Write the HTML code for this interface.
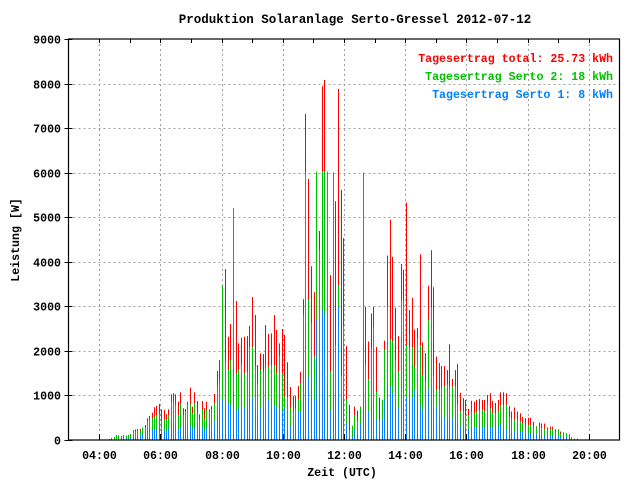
<!DOCTYPE html>
<html><head><meta charset="utf-8"><style>
html,body{margin:0;padding:0;background:#fff;}
svg{display:block;}
text{font-family:"Liberation Mono","DejaVu Sans Mono",monospace;font-weight:bold;font-size:11.6px;}
</style></head><body>
<svg id="chart" width="640" height="480" xmlns="http://www.w3.org/2000/svg">
<rect x="0" y="0" width="640" height="480" fill="#fff"/>
<text x="355" y="23" text-anchor="middle" fill="#000" style="font-size:12.5px">Produktion Solaranlage Serto-Gressel 2012-07-12</text>
<g id="grid"></g>
<g id="bars"></g>
<g id="axes"></g>
<text x="342" y="476" text-anchor="middle" fill="#000">Zeit (UTC)</text>
<text transform="translate(19,240) rotate(-90)" text-anchor="middle" fill="#000">Leistung [W]</text>
<text x="613" y="62" text-anchor="end" fill="#ff0000">Tagesertrag total: 25.73 kWh</text>
<text x="613" y="80" text-anchor="end" fill="#00c000">Tagesertrag Serto 2: 18 kWh</text>
<text x="613" y="98" text-anchor="end" fill="#0080ff">Tagesertrag Serto 1: 8 kWh</text>
</svg>
<script>
// Data (W). serto1 = blue, serto12 = blue+green stacked top, total = red top
const total = [22,45,67,112,97,90,112,97,112,135,224,239,247,247,277,337,486,539,613,733,763,808,688,673,576,688,1025,1047,1025,860,1070,711,696,860,1174,748,1070,875,576,875,711,860,688,
763,1032,1548,1795,3456,3837,2319,2603,5199,3119,2169,2296,2319,2334,2558,3209,2805,1683,1945,1930,2581,2379,2393,2805,2469,2169,2490,2360,1743,1189,987,987,1212,
1530,3160,7320,5860,3900,3320,6020,4690,7940,8080,6020,3700,6000,5360,7880,5610,4530,2110,790,320,750,660,750,6000,2990,2210,2840,2990,2090,950,900,2230,4140,4940,4110,2970,2330,3950,3820,
5330,2920,3190,2480,2510,4170,2190,1950,3460,4260,3430,1870,1730,1660,1660,1570,2150,1370,1570,1710,1060,940,900,700,880,860,900,920,900,900,1010,1050,880,
830,900,1070,1070,1050,760,640,730,640,600,520,490,500,500,410,310,390,370,370,280,300,300,240,240,190,170,150,130,60,30,30];
const serto12 = [22,45,67,97,97,90,112,97,112,135,202,187,202,209,277,284,411,449,486,524,561,598,449,464,449,561,875,845,785,561,823,561,636,800,800,598,823,598,464,673,464,673,636,
688,823,1219,1309,3456,1773,1571,1795,5199,1496,1571,1720,1496,1533,2094,2094,1661,1272,1571,1533,1645,1645,1683,1683,1496,1885,1496,972,957,711,688,711,913,
1280,2800,6020,3140,2620,1870,6020,4260,6020,6020,6020,1530,6000,2130,3460,1420,2560,920,220,320,560,410,750,6000,1680,1370,2060,2540,1080,450,900,2020,2990,2260,2210,1800,1530,3140,3140,
2110,2090,2090,1650,2280,2130,1460,1310,2690,2980,1420,1120,1120,1200,1200,1270,1200,1200,1200,790,640,640,560,560,640,600,640,670,670,640,820,710,600,
600,640,790,790,790,520,480,450,460,430,370,340,340,340,300,300,290,270,250,240,250,240,190,240,150,150,150,100,60,30,30];
const serto1 = [0,0,0,22,22,37,30,37,30,52,75,52,75,90,150,150,224,224,239,239,224,262,209,217,187,284,314,299,337,239,299,239,262,299,314,224,299,239,187,299,209,262,314,
299,411,598,673,913,823,823,785,1122,658,711,748,711,711,972,935,673,598,711,763,733,913,748,763,711,860,658,711,411,314,299,329,636,
640,1730,2540,1420,1310,900,2690,970,2920,2800,1230,670,1010,1010,2990,1050,1050,380,70,60,220,150,380,2660,900,640,790,900,450,220,450,900,1230,1200,1050,790,740,1310,2390,
940,1010,940,1120,1100,790,640,640,1120,1230,710,750,520,520,520,460,520,480,520,460,300,300,250,250,280,280,280,280,280,280,370,300,280,
300,300,360,260,240,240,190,190,190,190,190,160,150,150,130,130,130,110,110,90,90,90,80,90,70,70,60,50,30,0,0];
const yTicks = [0,1000,2000,3000,4000,5000,6000,7000,8000,9000];
const xTickHours = [4,6,8,10,12,14,16,18,20];
const xTickLabels = ["04:00","06:00","08:00","10:00","12:00","14:00","16:00","18:00","20:00"];
// sample-time anchors (bar index -> hour UTC); times between anchors are evenly spaced
const anchorIndex = [0,42,43,75,76,114,115,147,148,178];
const anchorHour = [4.323,7.580,7.665,10.497,10.563,13.937,14.036,16.845,16.934,19.603];

const NS = "http://www.w3.org/2000/svg";
const L = 68.5, R = 619.5, T = 39, B = 440;
const xMin = 3, xMax = 21, yMax = 9000;
function xs(h){ return L + (h - xMin) / (xMax - xMin) * (R - L); }
function ys(v){ return B - v / yMax * (B - T); }
function timeOf(i){
  for (let k = 0; k < anchorIndex.length - 1; k++) {
    if (i >= anchorIndex[k] && i <= anchorIndex[k+1]) {
      const span = anchorIndex[k+1] - anchorIndex[k];
      return span ? anchorHour[k] + (anchorHour[k+1] - anchorHour[k]) * (i - anchorIndex[k]) / span : anchorHour[k];
    }
  }
  return anchorHour[anchorHour.length-1];
}
function mk(tag, attrs, parent){ const e = document.createElementNS(NS, tag); for (const k in attrs) e.setAttribute(k, attrs[k]); parent.appendChild(e); return e; }

const grid = document.getElementById('grid');
const axes = document.getElementById('axes');
const bars = document.getElementById('bars');

yTicks.forEach(v => {
  const y = Math.round(ys(v)) + 0.5;
  if (v > 0 && v < yMax) {
    const g = mk('line', {x1:L, x2:R, y1:y, y2:y, stroke:'#a0a0a0', 'stroke-width':1, 'stroke-dasharray':'2,3'}, grid);
    
    
  }
  const t = mk('line', {x1:L-4, x2:L+4, y1:y, y2:y, stroke:'#000', 'stroke-width':1}, axes);
  
  
  const lb = mk('text', {x:61, y:y+4, 'text-anchor':'end', fill:'#000'}, axes);
  lb.textContent = String(v);
  
  
});
xTickHours.forEach((h, i) => {
  const x = Math.round(xs(h)) + 0.5;
  const g = mk('line', {x1:x, x2:x, y1:T, y2:B, stroke:'#a0a0a0', 'stroke-width':1, 'stroke-dasharray':'2,3'}, grid);
  
  
  const tb = mk('line', {x1:x, x2:x, y1:B, y2:B-6, stroke:'#000', 'stroke-width':1}, grid);
  
  
  const lb = mk('text', {x:x, y:459, 'text-anchor':'middle', fill:'#000'}, axes);
  lb.textContent = xTickLabels[i];
  
  
});
for (let h = xMin + 1; h < xMax; h++) {
  const x = Math.round(xs(h)) + 0.5;
  const t = mk('line', {x1:x, x2:x, y1:T, y2:T+4, stroke:'#000', 'stroke-width':1}, axes);
  
  
}

const n = total.length;
for (let i = 0; i < n; i++) {
  const x = Math.round(xs(timeOf(i)));
  const r = mk('rect', {x:x, y:ys(total[i]), width:1, height:B - ys(total[i]), fill:'#ff0000'}, bars);
  
  
  const g = mk('rect', {x:x, y:ys(serto12[i]), width:1, height:B - ys(serto12[i]), fill:'#00c000'}, bars);
  
  
  const b = mk('rect', {x:x, y:ys(serto1[i]), width:1, height:B - ys(serto1[i]), fill:'#0080ff'}, bars);
  
  
}
const frame = mk('rect', {x:L, y:T, width:R-L, height:B-T, fill:'none', stroke:'#000', 'stroke-width':1.2}, axes);


</script>
</body></html>
